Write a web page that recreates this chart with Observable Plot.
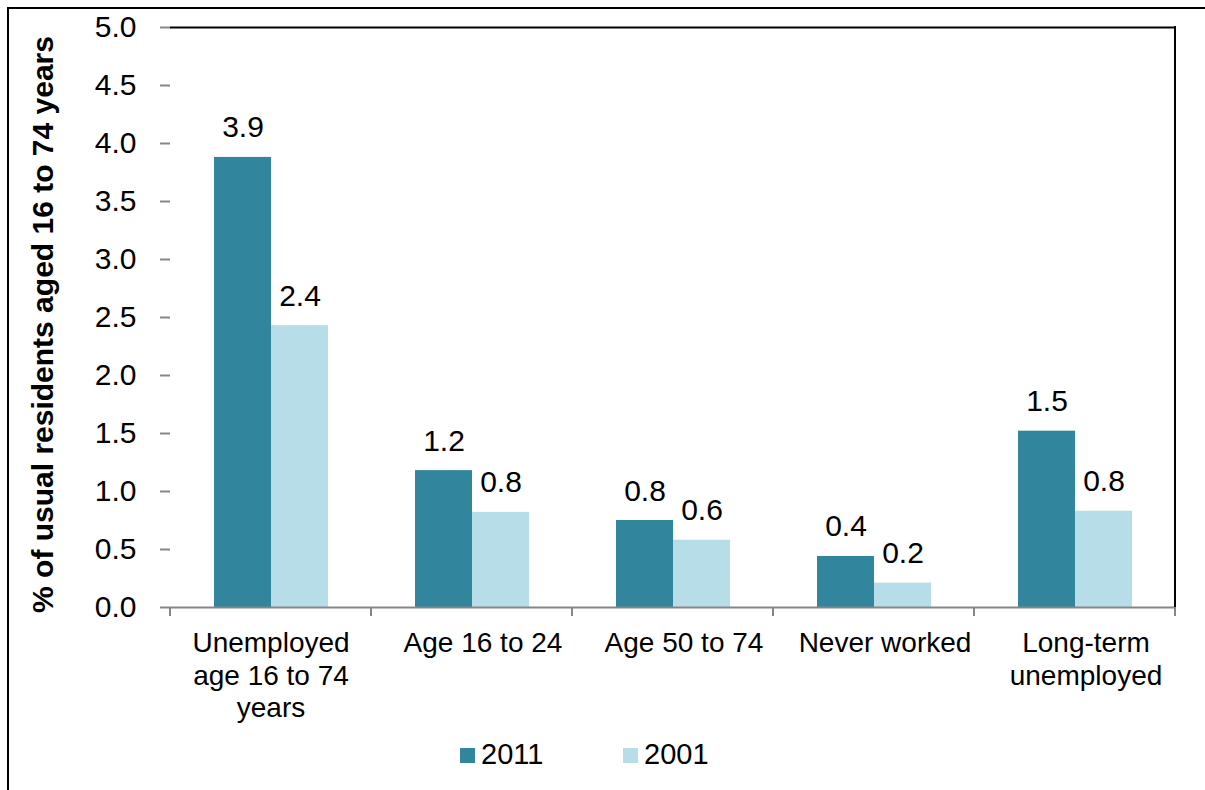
<!DOCTYPE html>
<html>
<head>
<meta charset="utf-8">
<script src="https://cdn.jsdelivr.net/npm/d3@7"></script>
<script src="https://cdn.jsdelivr.net/npm/@observablehq/plot@0.6"></script>
<style>
  html, body { margin: 0; padding: 0; background: #fff; overflow: hidden; }
  body { width: 1205px; height: 790px; position: relative; font-family: "Liberation Sans", Arial, sans-serif; }
  #outer { position: absolute; left: 7px; top: 7px; width: 1400px; height: 1000px;
           border-top: 2px solid #000; border-left: 2px solid #000; box-sizing: border-box; }
  #chart { position: absolute; left: 0; top: 0; }
  #chart svg { overflow: visible; }
  #legend { position: absolute; left: 460px; top: 740px; display: flex; align-items: center;
            font-size: 29px; line-height: 28px; color: #000; }
  .item { display: flex; align-items: center; width: 163px; }
  .sw { width: 15px; height: 15px; margin-right: 6px; margin-top: 3px; }
</style>
</head>
<body>
<div id="outer"></div>
<div id="chart"></div>
<div id="legend"></div>
<script>
const categories = ["Unemployed age 16 to 74 years", "Age 16 to 24", "Age 50 to 74", "Never worked", "Long-term unemployed"];
const categoryLabels = ["Unemployed\nage 16 to 74\nyears", "Age 16 to 24", "Age 50 to 74", "Never worked", "Long-term\nunemployed"];
const years = ["2011", "2001"];
const values2011 = [3.88, 1.18, 0.75, 0.44, 1.52];
const values2001 = [2.43, 0.82, 0.58, 0.21, 0.83];
const labels2011 = ["3.9", "1.2", "0.8", "0.4", "1.5"];
const labels2001 = ["2.4", "0.8", "0.6", "0.2", "0.8"];
const yTicks = [0, 0.5, 1, 1.5, 2, 2.5, 3, 3.5, 4, 4.5, 5];
const yTitle = "% of usual residents aged 16 to 74 years";
const colors = ["#31859C", "#B7DEE8"];

const rows = [];
categories.forEach((c, i) => {
  rows.push({category: c, year: "2011", value: values2011[i], label: labels2011[i]});
  rows.push({category: c, year: "2001", value: values2001[i], label: labels2001[i]});
});
const catRows = categories.map((c, i) => ({category: c, text: categoryLabels[i]}));

const AXIS = "#868686";
const FS = 28;
const NFS = 30;

const catTextOpts = {fx: "category", text: "text", frameAnchor: "bottom", lineAnchor: "top",
                     dy: 21, lineHeight: 1.17, fontSize: FS, fill: "#000"};

const chart = Plot.plot({
  width: 1205,
  height: 730,
  marginLeft: 168,
  marginRight: 28,
  marginTop: 27,
  marginBottom: 123,
  style: {fontFamily: "'Liberation Sans', Arial, sans-serif", fontSize: FS + "px", color: "#000", background: "transparent", overflow: "visible"},
  fx: {domain: categories, padding: 0, axis: null},
  x: {domain: years, paddingInner: 0, paddingOuter: 0.755, axis: null},
  y: {domain: [0, 5], axis: null},
  color: {domain: years, range: colors},
  marks: [
    Plot.ruleY([5], {stroke: "#000", strokeWidth: 2}),
    Plot.barY(rows, {fx: "category", x: "year", y: "value", fill: "year"}),
    Plot.ruleY([0], {stroke: AXIS, strokeWidth: 2}),
    Plot.axisY({ticks: yTicks, tickFormat: d => d.toFixed(1), tickSize: 10, tickPadding: 24,
                stroke: AXIS, strokeWidth: 2, fontSize: NFS, label: null, line: true}),
    Plot.text(rows, {fx: "category", x: "year", y: "value", text: "label", dy: -20,
                     lineAnchor: "bottom", fontSize: NFS, fill: "#000"}),
    Plot.text(catRows.slice(0, 1), catTextOpts),
    Plot.text(catRows.slice(1), {...catTextOpts, dx: 11}),
    Plot.text([yTitle], {fx: () => categories[0], text: d => d, frameAnchor: "left", textAnchor: "middle",
                         rotate: -90, dx: -127, dy: 7, fontSize: 30, fontWeight: "bold", fill: "#000"})
  ]
});
document.getElementById("chart").appendChild(chart);

// category boundary ticks and right frame line, from the library's scales
const fx = chart.scale("fx");
const ys = chart.scale("y");
const yPos = v => ys.range[0] + (v - ys.domain[0]) / (ys.domain[1] - ys.domain[0]) * (ys.range[1] - ys.range[0]);
let starts;
if (fx.apply) starts = fx.domain.map(d => fx.apply(d));
else starts = fx.domain.map((d, i) => fx.range[0] + i * fx.step);
const bw = fx.bandwidth != null ? fx.bandwidth : fx.step;
const bounds = starts.concat([starts[starts.length - 1] + bw]);
const svg = d3.select(chart.tagName.toLowerCase() === "svg" ? chart : chart.querySelector("svg"));
const y0 = yPos(0), yTop = yPos(5);
svg.append("g").selectAll("line").data(bounds).join("line")
  .attr("x1", d => d).attr("x2", d => d).attr("y1", y0).attr("y2", y0 + 9)
  .attr("stroke", AXIS).attr("stroke-width", 2);
svg.append("line").attr("x1", bounds[bounds.length - 1]).attr("x2", bounds[bounds.length - 1])
  .attr("y1", yTop - 1).attr("y2", y0).attr("stroke", "#000").attr("stroke-width", 2);

// legend
const lg = document.getElementById("legend");
years.forEach((y, i) => {
  const it = document.createElement("div"); it.className = "item";
  const sw = document.createElement("div"); sw.className = "sw"; sw.style.background = colors[i];
  const t = document.createElement("span"); t.textContent = y;
  it.appendChild(sw); it.appendChild(t); lg.appendChild(it);
});
</script>
</body>
</html>
